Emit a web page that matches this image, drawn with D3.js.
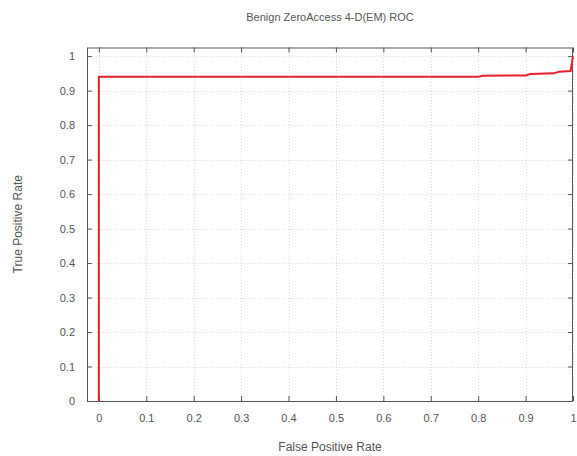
<!DOCTYPE html>
<html>
<head>
<meta charset="utf-8">
<script src="https://cdn.jsdelivr.net/npm/d3@7"></script>
<style>
  body { margin: 0; background: #fff; }
  svg text { font-family: "Liberation Sans", Arial, sans-serif; fill: #555; }
</style>
</head>
<body>
<div id="plot"></div>
<script>
const title = 'Benign ZeroAccess 4-D(EM) ROC'
const xLabel = 'False Positive Rate'
const yLabel = 'True Positive Rate'
const xTicks = [0, 0.1, 0.2, 0.3, 0.4, 0.5, 0.6, 0.7, 0.8, 0.9, 1]
const yTicks = [0, 0.1, 0.2, 0.3, 0.4, 0.5, 0.6, 0.7, 0.8, 0.9, 1]
// ROC curve points
const fpr = [0, 0, 0.80, 0.81, 0.90, 0.91, 0.96, 0.97, 0.995, 0.997, 1]
const tpr = [0, 0.94, 0.94, 0.943, 0.944, 0.948, 0.95, 0.955, 0.957, 0.975, 1]

const width = 577, height = 456
const margin = ({top: 47.5, right: 4, bottom: 55, left: 87})

const svg = d3.select('#plot').append('svg')
  .attr('width', width)
  .attr('height', height)

const xScale = d3.scaleLinear()
  .domain([-0.025, 1])
  .range([margin.left, width - margin.right])
const yScale = d3.scaleLinear()
  .domain([0, 1.025])
  .range([height - margin.bottom, margin.top])

const x0 = margin.left, x1 = width - margin.right
const y0 = height - margin.bottom, y1 = margin.top

//grid
const grid = svg.append('g')
grid.selectAll('.gx').data(xTicks).enter().append('line')
  .attr('x1', d => Math.round(xScale(d)) + 0.5)
  .attr('x2', d => Math.round(xScale(d)) + 0.5)
  .attr('y1', y0).attr('y2', y1)
  .attr('stroke', '#dcdcdc').attr('stroke-dasharray', '1,2')
grid.selectAll('.gy').data(yTicks).enter().append('line')
  .attr('y1', d => Math.round(yScale(d)) + 0.5)
  .attr('y2', d => Math.round(yScale(d)) + 0.5)
  .attr('x1', x0).attr('x2', x1)
  .attr('stroke', '#dcdcdc').attr('stroke-dasharray', '1,2')

//axes: inward ticks, mirrored
svg.append('g')
  .attr('transform', `translate(0,${y0})`)
  .call(d3.axisBottom(xScale).tickValues(xTicks).tickSize(-5).tickPadding(13).tickFormat(d3.format('')))
  .call(g => g.select('.domain').remove())
  .call(g => g.selectAll('.tick line').attr('stroke', '#555'))
  .call(g => g.selectAll('.tick text').attr('font-size', 11).attr('fill', '#555'))
svg.append('g')
  .attr('transform', `translate(0,${y1})`)
  .call(d3.axisTop(xScale).tickValues(xTicks).tickSize(-5).tickFormat(''))
  .call(g => g.select('.domain').remove())
  .call(g => g.selectAll('.tick line').attr('stroke', '#555'))
svg.append('g')
  .attr('transform', `translate(${x0},0)`)
  .call(d3.axisLeft(yScale).tickValues(yTicks).tickSize(-5).tickPadding(12).tickFormat(d3.format('')))
  .call(g => g.select('.domain').remove())
  .call(g => g.selectAll('.tick line').attr('stroke', '#555'))
  .call(g => g.selectAll('.tick text').attr('font-size', 11).attr('fill', '#555'))
svg.append('g')
  .attr('transform', `translate(${x1},0)`)
  .call(d3.axisRight(yScale).tickValues(yTicks).tickSize(-5).tickFormat(''))
  .call(g => g.select('.domain').remove())
  .call(g => g.selectAll('.tick line').attr('stroke', '#555'))

//frame
svg.append('rect')
  .attr('x', x0 + 0.5).attr('y', y1 + 0.5)
  .attr('width', x1 - x0 - 1).attr('height', y0 - y1)
  .attr('fill', 'none').attr('stroke', '#555')

//curve
const data = fpr.map((d, i) => [d, tpr[i]])
const line = d3.line()
  .x(d => xScale(d[0]))
  .y(d => yScale(d[1]))
svg.append('path')
  .datum(data)
  .attr('d', line)
  .attr('fill', 'none')
  .attr('stroke', '#e8202a')
  .attr('stroke-width', 2)

//labels
svg.append('text')
  .attr('x', (x0 + x1) / 2).attr('y', 21)
  .attr('text-anchor', 'middle').attr('font-size', 11)
  .text(title)
svg.append('text')
  .attr('x', (x0 + x1) / 2).attr('y', 451)
  .attr('text-anchor', 'middle').attr('font-size', 12)
  .text(xLabel)
svg.append('text')
  .attr('transform', `translate(22,${(y0 + y1) / 2}) rotate(-90)`)
  .attr('text-anchor', 'middle').attr('font-size', 12)
  .text(yLabel)
</script>
</body>
</html>
